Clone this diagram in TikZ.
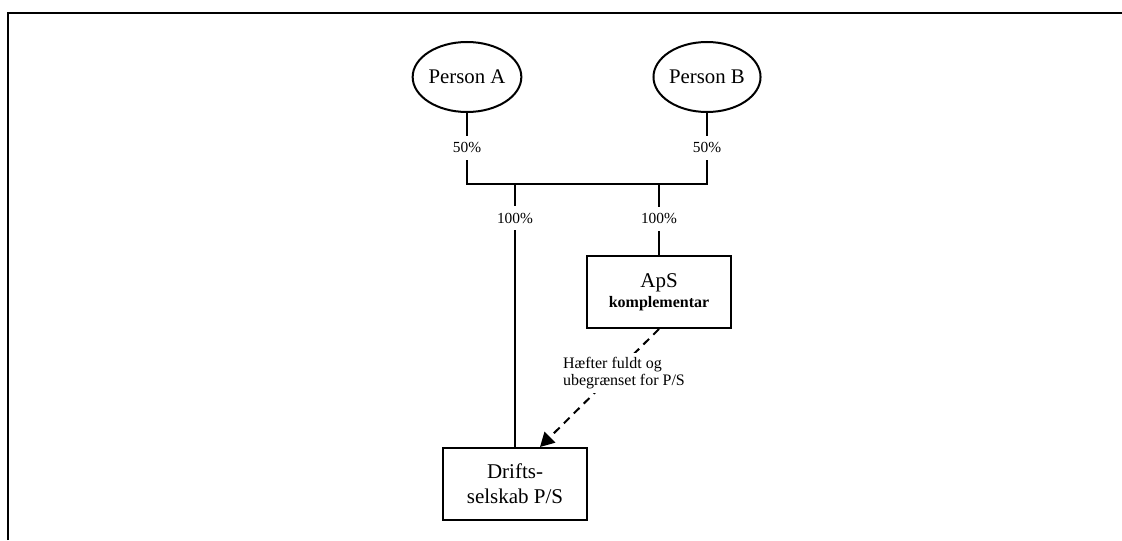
\documentclass[tikz,border=0pt]{standalone}
\usepackage{fontspec}
\setmainfont{Liberation Serif}
\usetikzlibrary{shapes.geometric,arrows.meta}

\begin{document}
\begin{tikzpicture}[x=0.5pt, y=-0.5pt, line width=1pt,
    person/.style={draw, ellipse, minimum width=49pt, minimum height=35pt, inner sep=0pt, font=\fontsize{10.4}{12}\selectfont},
    selskab/.style={draw, rectangle, minimum width=72pt, minimum height=36pt, inner sep=0pt, align=center, font=\fontsize{10.5}{12.5}\selectfont},
    andel/.style={fill=white, inner sep=3.5pt, font=\fontsize{7.7}{9}\selectfont},
    haeft/.style={fill=white, inner sep=2pt, align=left, font=\fontsize{8}{8.5}\selectfont}]
    % Ramme (kun top og venstre side ses)
    \useasboundingbox (0,0) rectangle (1122,540);
    \draw (7.5,540) -- (7.5,13) -- (1122,13);

    % Ejere
    \node[person] (pa) at (467,77) {Person A};
    \node[person] (pb) at (707,77) {Person B};

    % Selskaber
    \node[selskab] (aps) at (659,292) {ApS\\[-2.5pt]{\bfseries\fontsize{8}{9}\selectfont komplementar}};
    \node[selskab] (drift) at (515,484) {Drifts-\\selskab P/S};

    % Knudepunkter paa vandret streg
    \coordinate (ja) at (467,184);
    \coordinate (jb) at (707,184);
    \coordinate (ka) at (515,184);
    \coordinate (kb) at (659,184);

    % Ejerandele
    \draw (pa) -- node[andel, pos=0.49] {50\%} (ja) -- (jb) -- node[andel, pos=0.51] {50\%} (pb);
    \draw (ka) -- node[andel, pos=0.13] {100\%} (drift);
    \draw (kb) -- node[andel, pos=0.49] {100\%} (aps);

    % Haeftelse
    \draw[dash pattern=on 4pt off 3pt, -{Triangle[length=7pt,width=7.5pt]}] (aps.south) --
        node[haeft, pos=0.37, xshift=4.5pt] {H\ae fter fuldt og\\ubegr\ae nset for P/S} ([xshift=12.5pt]drift.north);

\end{tikzpicture}
\end{document}
